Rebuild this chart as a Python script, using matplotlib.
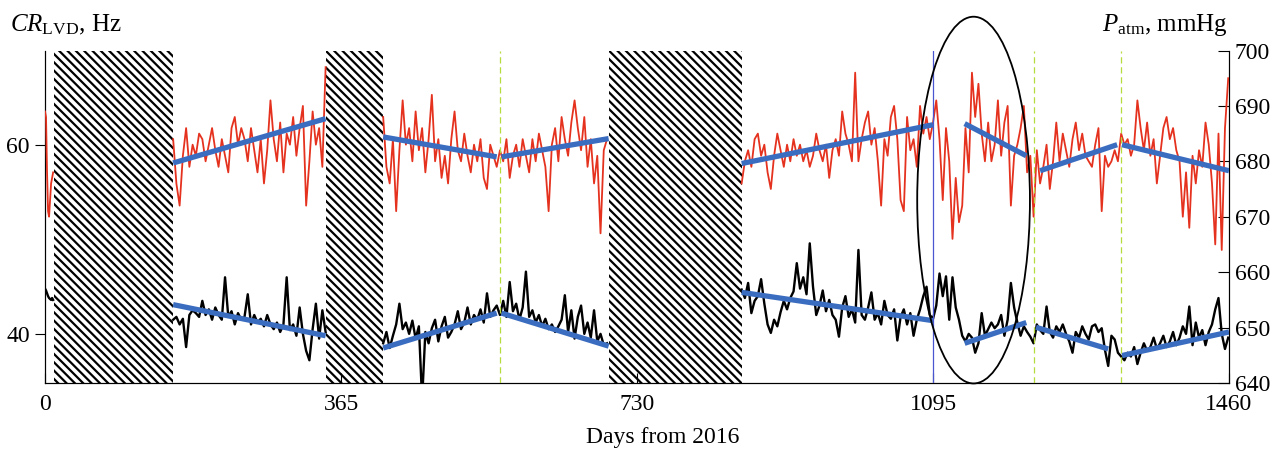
import numpy as np
import matplotlib
matplotlib.use("Agg")
from matplotlib import pyplot as plt
from matplotlib.patches import Ellipse

plt.rcParams['font.family'] = ['Liberation Serif', 'DejaVu Serif']
plt.rcParams['mathtext.fontset'] = 'custom'
plt.rcParams['mathtext.rm'] = 'Liberation Serif'
plt.rcParams['mathtext.it'] = 'Liberation Serif:italic'
plt.rcParams['hatch.linewidth'] = 1.6

# ---- data -----------------------------------------------------------
# gaps in the record (days)
gaps = [(11, 158), (346, 417), (695, 859)]

# record pieces: first day, last day
seg_a = (0, 10)
seg_b = (158, 346)
seg_c = (417, 693)
seg_d = (859, 1459)

# P_atm, mmHg (red)
p_a = [689, 688, 678, 671, 670, 673, 676, 677, 678]
p_b = [684, 676, 672, 681, 686, 679, 683, 681, 685, 684, 680, 683, 686, 682,
       679, 684, 681, 678, 686, 688, 683, 686, 684, 680, 686, 682, 678, 684,
       676, 682, 691, 684, 680, 687, 678, 685, 683, 688, 681, 686, 690, 672,
       680, 689, 683, 686, 679, 697]
p_c = [688, 679, 676, 684, 671, 682, 691, 683, 686, 680, 689, 682, 686, 678,
       684, 692, 680, 684, 677, 681, 676, 684, 689, 682, 680, 685, 681, 678,
       683, 680, 684, 677, 675, 683, 681, 679, 682, 680, 684, 677, 681, 683,
       679, 684, 681, 678, 684, 680, 685, 682, 679, 671, 683, 686, 680, 688,
       684, 681, 687, 691, 686, 682, 688, 679, 684, 676, 681, 667, 682, 684]
p_d = [676, 680, 682, 679, 684, 685, 681, 683, 678, 675, 681, 685, 682, 679,
       683, 680, 684, 681, 683, 680, 682, 679, 681, 685, 682, 680, 683, 677,
       682, 684, 681, 689, 685, 683, 680, 696, 680, 684, 687, 689, 683, 686,
       680, 672, 684, 681, 688, 690, 684, 673, 671, 688, 682, 684, 679, 690,
       685, 688, 684, 687,
       691, 684, 673, 686, 680, 666, 677, 669, 672, 686, 678, 696, 688, 694,
       685, 680, 687, 680, 683, 691, 681, 687, 690, 672, 681, 683, 686, 690,
       678, 681, 670, 682, 676, 679, 683, 675, 680, 687, 680, 685, 682, 679,
       684, 687, 682, 685, 681, 680,
       679, 683, 686, 671, 681, 679, 680, 682, 680, 685, 683, 684, 681, 683,
       691, 686, 682, 687, 681, 684, 676, 681, 686, 688, 684, 686, 682, 680,
       670, 678, 668, 681, 676, 682, 679, 687, 683, 676, 665, 685, 664, 686,
       695]

# CR_LVD, Hz (black)
cr_a = [44.8, 44.6, 44.3, 44.0, 43.8, 43.7, 43.6, 43.8, 43.6]
cr_b = [41.5, 41.8, 41.0, 41.6, 38.6, 42.0, 42.5, 42.2, 41.8, 43.5, 42.0, 42.6,
        41.5, 42.8, 42.0, 41.5, 46.0, 41.8, 42.4, 41.0, 42.2, 41.5, 41.8, 44.2,
        41.0, 42.0, 41.2, 41.6, 40.8, 42.0, 41.0, 40.5, 41.2, 40.2, 41.0, 46.0,
        40.4, 41.0, 39.8, 42.8, 40.0, 38.2, 37.2, 40.5, 43.2, 39.5, 42.5, 40.2]
cr_c = [39.0, 40.2, 38.5, 39.8, 41.0, 43.2, 40.5, 41.2, 40.0, 41.4, 39.5, 40.8,
        33.0, 40.2, 39.0, 40.6, 41.5, 39.2, 40.8, 41.8, 39.6, 40.2, 41.0, 42.4,
        40.5, 41.2, 42.8, 41.0, 42.0, 41.5, 42.6, 41.2, 44.3, 41.8, 42.5, 43.0,
        42.0, 43.5, 41.8, 45.5, 42.4, 43.2, 41.5, 42.8, 46.6, 41.8, 42.5, 41.2,
        42.0, 40.8, 41.6, 40.5, 41.0, 40.2, 40.8, 41.5, 44.1, 40.2, 42.5, 39.5,
        41.8, 43.0, 40.0, 41.2, 39.6, 42.5, 39.2, 40.0, 38.8, 39.0]
cr_d = [44.7, 43.8, 45.4, 42.2, 43.5, 44.0, 45.8, 43.2, 41.0, 40.1, 41.5, 40.8,
        42.3, 43.5, 42.6, 43.8, 44.5, 47.5, 44.8, 46.0, 44.2, 49.6, 45.0, 42.0,
        43.0, 44.6, 42.4, 43.6, 42.0, 41.5, 39.7, 42.8, 44.0, 41.8, 42.6, 41.2,
        48.9, 42.0, 41.5, 42.8, 44.4, 41.5, 42.2, 41.0, 43.5, 42.0, 41.6, 42.6,
        39.3, 41.8, 42.6, 41.0, 42.2, 39.8, 41.5, 42.6, 44.0, 45.0, 42.0, 41.6,
        43.0, 46.4, 44.0, 46.1, 41.5, 46.0, 42.8, 41.5, 39.8, 39.2, 40.0, 39.6,
        38.0, 39.0, 42.2, 39.8, 40.5, 41.2, 40.6, 41.0, 42.0, 39.8, 41.5, 45.4,
        42.8, 41.2, 39.8, 40.8, 40.2, 39.7, 39.0, 41.0, 40.4, 40.0, 42.9, 40.2,
        39.6, 40.8, 40.2, 41.0, 40.0, 39.2, 38.0, 40.2, 39.6, 40.8, 40.0, 39.4,
        40.8, 41.0, 40.2, 40.6, 38.3, 36.6, 39.8, 39.4, 38.0, 37.6, 37.2, 38.0,
        37.6, 38.6, 36.8, 38.0, 39.0, 38.2, 38.6, 39.6, 38.4, 39.0, 39.8, 38.6,
        39.2, 40.2, 38.8, 39.6, 40.8, 40.0, 42.9, 38.8, 41.2, 39.6, 40.4, 38.8,
        40.2, 41.0, 42.6, 43.8, 40.0, 38.4, 39.6]

# linear trends: (day start, day end, value start, value end)
p_trend = [(158, 346, 679.7, 687.7), (417, 557, 684.4, 680.8),
           (563, 695, 680.8, 684.1), (859, 1095, 679.6, 686.6),
           (1134, 1210, 686.8, 681.0), (1227, 1322, 678.3, 683.0),
           (1328, 1460, 683.0, 678.3)]
cr_trend = [(158, 346, 43.1, 39.8), (417, 557, 38.5, 42.2),
            (563, 695, 42.2, 38.7), (859, 1095, 44.4, 41.4),
            (1134, 1210, 39.0, 41.2), (1222, 1311, 40.7, 38.4),
            (1328, 1460, 37.7, 40.2)]

marker_blue = [1095]
marker_green = [561, 1219, 1327]

x_ticks = [0, 365, 730, 1095, 1460]
cr_ticks = [40, 60]
p_ticks = [640, 650, 660, 670, 680, 690, 700]

# ---- figure ---------------------------------------------------------
fig = plt.figure(figsize=(12.86, 4.51), dpi=100)
ax = fig.add_axes([0.035, 0.151, 0.9207, 0.737])
ax2 = ax.twinx()

red = '#e5321f'
blue = '#3a6cc0'

for lo, hi in gaps:
    ax.axvspan(lo, hi, facecolor='white', edgecolor='black', hatch='\\\\\\\\',
               linewidth=0, zorder=1)

for seg, vals in [(seg_a, cr_a), (seg_b, cr_b), (seg_c, cr_c), (seg_d, cr_d)]:
    days = np.linspace(seg[0], seg[1], len(vals))
    ax.plot(days, vals, color='black', lw=1.7, zorder=3)
for seg, vals in [(seg_a, p_a), (seg_b, p_b), (seg_c, p_c), (seg_d, p_d)]:
    days = np.linspace(seg[0], seg[1], len(vals))
    ax2.plot(days, vals, color=red, lw=1.3, zorder=3)

for d0, d1, v0, v1 in cr_trend:
    ax.plot([d0, d1], [v0, v1], color=blue, lw=3.8, solid_capstyle='butt', zorder=4)
for d0, d1, v0, v1 in p_trend:
    ax2.plot([d0, d1], [v0, v1], color=blue, lw=3.8, solid_capstyle='butt', zorder=4)

for d in marker_blue:
    ax2.axvline(d, color='#4a55d0', lw=0.9, zorder=5)
for d in marker_green:
    ax2.axvline(d, color='#b5dc3c', lw=0.9, ls=(0, (5, 3)), zorder=5)

ell = Ellipse((1145, 673), 139, 66.2, fill=False, edgecolor='black', lw=1.3,
              clip_on=False, zorder=6)
ax2.add_patch(ell)

ax.set_xlim(0, 1460)
ax.set_ylim(34.8, 70.05)
ax2.set_ylim(640, 700)

ax.set_xticks(x_ticks)
ax.set_yticks(cr_ticks)
ax2.set_yticks(p_ticks)

for a in (ax, ax2):
    a.spines['top'].set_visible(False)
    a.set_facecolor('none')
ax.tick_params(axis='x', direction='in', length=7, labelsize=17, pad=8)
ax.tick_params(axis='y', direction='out', length=7, labelsize=17, pad=4)
ax2.tick_params(axis='y', direction='in', length=8, labelsize=17, pad=4)

fig.text(0.008, 0.945, r'$\mathit{CR}_{\mathrm{LVD}}$, Hz', fontsize=18,
         ha='left', va='center')
fig.text(0.955, 0.945, r'$\mathit{P}_{\mathrm{atm}}$, mmHg', fontsize=18,
         ha='right', va='center')
fig.text(0.515, 0.03, 'Days from 2016', fontsize=17, ha='center', va='center')

fig.savefig('out.png', dpi=100)
